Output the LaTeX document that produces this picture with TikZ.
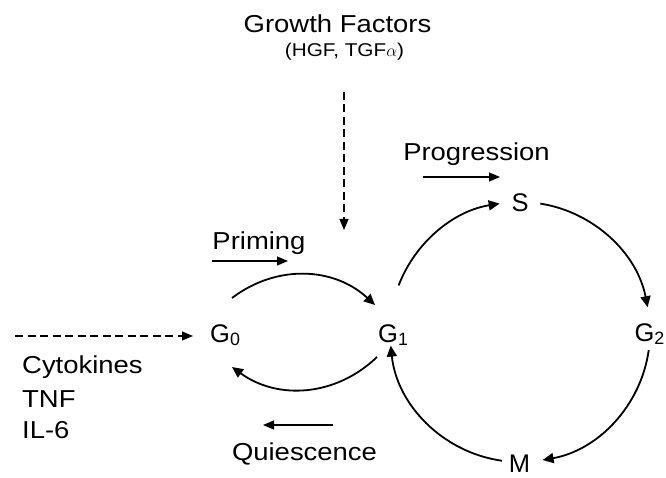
\documentclass[tikz,border=0pt]{standalone}
\usepackage{fontspec}
\setmainfont{Liberation Sans}[FakeStretch=1.12]
\newfontfamily\plainsans{Liberation Sans}
\usetikzlibrary{arrows.meta,calc}
\begin{document}
\begin{tikzpicture}[x=1pt,y=1pt,
  lbl/.style={font=\fontsize{24.5}{29}\selectfont, inner sep=0pt, anchor=base},
  small/.style={font=\fontsize{18.5}{22}\selectfont, inner sep=0pt, anchor=base},
  phase/.style={font=\plainsans\fontsize{25.5}{30}\selectfont, inner sep=0pt, anchor=base west},
  arcarr/.style={line width=1.8pt, -{Triangle[length=11pt,width=10pt]}},
  thinarr/.style={line width=1.2pt, -{Triangle[length=11pt,width=9pt]}},
  dasharr/.style={line width=1.2pt, dash pattern=on 8pt off 4.5pt, -{Triangle[length=11pt,width=9pt]}}
]
\useasboundingbox (0,0) rectangle (666,477);

% labels
\node[lbl] (gf) at (337.5,444) {Growth Factors};
\node[small] (hgf) at (344.5,420) {(HGF, TGF$\alpha$)};
\node[lbl] (prog) at (476.5,316) {Progression};
\node[lbl] (prim) at (259,227) {Priming};
\node[lbl] (quie) at (304.5,17) {Quiescence};
\node[lbl, anchor=base west] (cyt) at (22,104) {Cytokines};
\node[lbl, anchor=base west] (tnf) at (22,70) {TNF};
\node[lbl, anchor=base west] (il6) at (22,39) {IL-6};

% phases
\node[phase] (G0) at (210,135) {G\textsubscript{0}};
\node[phase] (G1) at (378,135) {G\textsubscript{1}};
\node[phase, anchor=base east] (G2) at (665,136) {G\textsubscript{2}};
\node[phase, anchor=base] (S) at (520,265) {S};
\node[phase, anchor=base] (M) at (519.5,5) {M};

% direction arrows
\coordinate (progA) at (423,300);
\coordinate (progB) at (500,300);
\draw[thinarr] (progA) -- (progB);
\coordinate (primA) at (212,216);
\coordinate (primB) at (288,216);
\draw[thinarr] (primA) -- (primB);
\coordinate (quieA) at (333,52);
\coordinate (quieB) at (263,52);
\draw[thinarr] (quieA) -- (quieB);

% dashed inputs
\coordinate (gfA) at (344,385);
\coordinate (gfB) at (344,247);
\draw[dasharr] (gfA) -- (gfB);
\coordinate (cytA) at (15,141);
\coordinate (cytB) at (193,141);
\draw[dasharr] (cytA) -- (cytB);

% G0 <-> G1
\coordinate (p1) at (232,179);
\coordinate (p2) at (375,172);
\draw[arcarr] (p1) to[bend left=40] (p2);
\coordinate (q1) at (377,120);
\coordinate (q2) at (232,110);
\draw[arcarr] (q1) to[bend left=40] (q2);

% cell cycle
\coordinate (C) at (520,145);
\coordinate (g1s) at ($(C)+(159:130)$);
\coordinate (sg2) at ($(C)+(81:130)$);
\coordinate (g2m) at ($(C)+(-8:130)$);
\coordinate (mg1) at ($(C)+(-98:130)$);
\draw[arcarr] (g1s) arc[start angle=159,end angle=99,radius=130];
\draw[arcarr] (sg2) arc[start angle=81,end angle=11,radius=130];
\draw[arcarr] (g2m) arc[start angle=-8,end angle=-80,radius=130];
\draw[arcarr] (mg1) arc[start angle=-98,end angle=-174,radius=130];
\end{tikzpicture}
\end{document}
